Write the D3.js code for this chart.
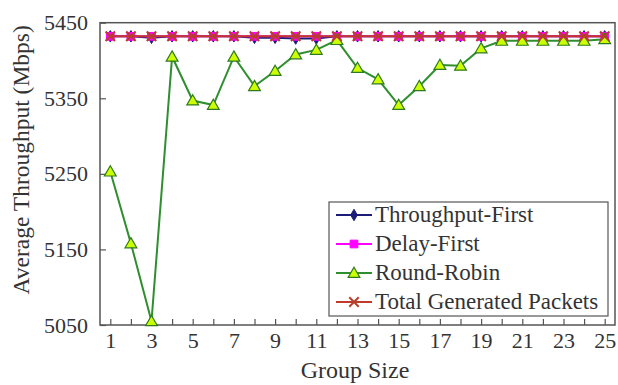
<!DOCTYPE html>
<html><head><meta charset="utf-8">
<script src="https://cdn.jsdelivr.net/npm/d3@7"></script>
<style>body{margin:0;background:#fff}svg text{font-family:"Liberation Serif","Times New Roman",serif;fill:#333}</style>
</head><body><svg id="c" width="618" height="385"></svg>
<script>
const groupSizes = d3.range(1, 26);
const throughputFirst = [5432,5432,5430,5432,5432,5432,5432,5430,5430,5429,5429,5432,5432,5432,5432,5432,5432,5432,5432,5432,5432,5432,5432,5432,5432];
const delayFirst      = [5432,5432,5432,5432,5432,5432,5432,5432,5432,5432,5432,5432,5432,5432,5432,5432,5432,5432,5432,5432,5432,5432,5432,5432,5432];
const roundRobin      = [5253,5158,5055,5405,5347,5341,5405,5366,5386,5408,5414,5427,5390,5375,5341,5366,5394,5393,5416,5426,5426,5426,5426,5426,5428];
const totalGenerated  = [5432,5432,5432,5432,5432,5432,5432,5432,5432,5432,5432,5432,5432,5432,5432,5432,5432,5432,5432,5432,5432,5432,5432,5432,5432];
const yTicks = [5050,5150,5250,5350,5450];
const xTickLabels = [1,3,5,7,9,11,13,15,17,19,21,23,25];
const seriesNames = ["Throughput-First","Delay-First","Round-Robin","Total Generated Packets"];

const svg = d3.select("#c");
const L=100,R=615,T=22.7,B=325;
const x = d3.scaleLinear().domain([0.5,25.5]).range([L,R]);
const y = d3.scaleLinear().domain([5050,5450]).range([B,T]);

const series = [
  {name:seriesNames[0], vals:throughputFirst, line:"#1c1c78", marker:"diamond", fill:"#1c1c78", stroke:"#1c1c78"},
  {name:seriesNames[1], vals:delayFirst, line:"#ff00ff", marker:"square", fill:"#ff00ff", stroke:"#ff00ff"},
  {name:seriesNames[2], vals:roundRobin, line:"#2f8f2f", marker:"triangle", fill:"#ccff00", stroke:"#2f7a1f"},
  {name:seriesNames[3], vals:totalGenerated, line:"#c0392b", marker:"cross", fill:"none", stroke:"#b5402a"}
];

function drawMarker(g, type, cx, cy, s){
  if(type==="diamond"){
    g.append("path").attr("d",d3.symbol(d3.symbolDiamond,38)()).attr("transform",`translate(${cx},${cy})`).attr("fill",s.fill).attr("stroke",s.stroke);
  } else if(type==="square"){
    g.append("path").attr("d",d3.symbol(d3.symbolSquare,60)()).attr("transform",`translate(${cx},${cy})`).attr("fill",s.fill).attr("stroke",s.stroke);
  } else if(type==="triangle"){
    g.append("path").attr("d",d3.symbol(d3.symbolTriangle,60)()).attr("transform",`translate(${cx},${cy+1})`).attr("fill",s.fill).attr("stroke",s.stroke).attr("stroke-width",1.2);
  } else {
    g.append("path").attr("d",d3.symbol(d3.symbolX,60)()).attr("transform",`translate(${cx},${cy})`).attr("fill","none").attr("stroke",s.stroke).attr("stroke-width",2);
  }
}

// axes frame
svg.append("rect").attr("x",L).attr("y",T).attr("width",R-L).attr("height",B-T).attr("fill","none").attr("stroke","#555").attr("stroke-width",1.5);

// y axis
const yAx = svg.append("g").attr("transform",`translate(${L},0)`)
  .call(d3.axisLeft(y).tickValues(yTicks).tickSize(-6).tickPadding(12).tickFormat(d3.format("d")));
yAx.select(".domain").remove();
yAx.selectAll("line").attr("stroke","#555").attr("stroke-width",1.2);
yAx.selectAll("text").style("font-size","22px").attr("fill","#333");

// x axis
const xAx = svg.append("g").attr("transform",`translate(0,${B})`)
  .call(d3.axisBottom(x).tickValues(groupSizes).tickSize(-6).tickPadding(7)
    .tickFormat(d=>xTickLabels.includes(d)?d:""));
xAx.select(".domain").remove();
xAx.selectAll("line").attr("stroke","#555").attr("stroke-width",1.2);
xAx.selectAll("text").style("font-size","22px").attr("fill","#333");

svg.append("text").attr("x",355).attr("y",378).attr("text-anchor","middle").style("font-size","24px").text("Group Size");
svg.append("text").attr("transform",`translate(29,${(T+B)/2 - 14}) rotate(-90)`).attr("text-anchor","middle").style("font-size","23.5px").text("Average Throughput (Mbps)");

// lines
const line = d3.line().x((d,i)=>x(groupSizes[i])).y(d=>y(d));
series.forEach(s=>{
  const g = svg.append("g");
  g.append("path").datum(s.vals).attr("d",line).attr("fill","none").attr("stroke",s.line).attr("stroke-width",2);
  s.vals.forEach((v,i)=>drawMarker(g,s.marker,x(groupSizes[i]),y(v),s));
});

// legend
const lg = svg.append("g");
lg.append("rect").attr("x",329).attr("y",202).attr("width",279).attr("height",114).attr("fill","#fff").attr("stroke","#555").attr("stroke-width",1.2);
series.forEach((s,i)=>{
  const cy = 215 + i*29;
  lg.append("line").attr("x1",336).attr("x2",372).attr("y1",cy).attr("y2",cy).attr("stroke",s.line).attr("stroke-width",2);
  drawMarker(lg,s.marker,354,cy,s);
  lg.append("text").attr("x",375).attr("y",cy+7).style("font-size","23px").text(s.name);
});
</script></body></html>
